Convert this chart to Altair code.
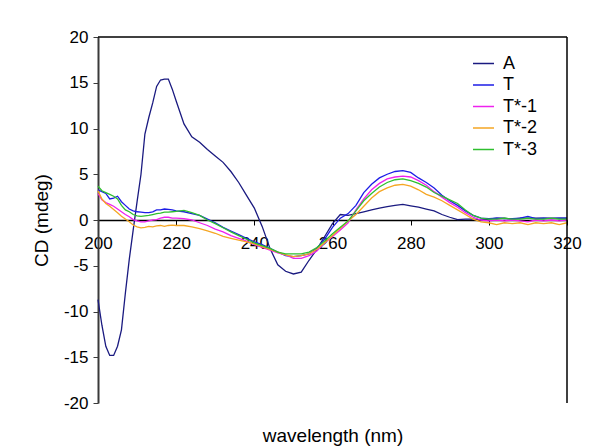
import altair as alt
import pandas as pd

# ---- data ----
wavelength = list(range(200, 221)) + list(range(222, 321, 2))

series_names = ["A", "T", "T*-1", "T*-2", "T*-3"]
series_colors = ["#1a1a80", "#1c1ce6", "#ee22ee", "#f5a623", "#2fbf2f"]

cd_A = [-8.7, -11.5, -13.8, -14.8, -14.8, -13.8, -12.0, -8.0, -4.3, -1.1,
        2.0, 5.0, 9.4, 11.2, 12.8, 14.6, 15.3, 15.4, 15.4, 14.3, 13.0,
        10.5, 9.1, 8.5, 7.7, 7.0, 6.3, 5.3, 4.1, 2.7, 1.3,
        -0.7, -3.1, -4.9, -5.6, -5.9, -5.7, -4.4, -3.2, -1.8, -0.4,
        0.6, 0.5, 0.7, 0.9, 1.1, 1.3, 1.45, 1.6, 1.7, 1.55,
        1.4, 1.2, 1.0, 0.6, 0.3, 0.05, 0.1, 0.1, 0.0, 0.1,
        0.2, 0.2, 0.1, 0.2, 0.2, 0.2, 0.2, 0.2, 0.2, 0.2]

cd_T = [3.3, 3.1, 2.9, 2.3, 2.4, 2.6, 2.0, 1.6, 1.2, 1.0,
        0.9, 0.85, 0.8, 0.8, 0.9, 1.1, 1.1, 1.2, 1.15, 1.1, 1.0,
        0.9, 0.7, 0.5, 0.1, -0.3, -0.8, -1.2, -1.6, -2.0, -2.4,
        -2.7, -3.1, -3.5, -3.9, -4.0, -3.9, -3.7, -3.1, -2.1, -0.8,
        0.2, 0.7, 1.6, 3.0, 3.9, 4.6, 5.0, 5.3, 5.4, 5.2,
        4.6, 4.1, 3.5, 2.7, 2.1, 1.6, 1.0, 0.5, 0.2, 0.15,
        0.2, 0.15, 0.15, 0.2, 0.4, 0.15, 0.2, 0.15, 0.2, 0.2]

cd_T1 = [2.9, 2.2, 1.9, 1.7, 1.5, 1.2, 0.9, 0.6, 0.35, 0.05,
         -0.1, -0.2, -0.2, -0.1, 0.0, 0.05, 0.2, 0.3, 0.3, 0.2, 0.2,
         0.15, 0.0, -0.3, -0.6, -1.0, -1.3, -1.7, -2.0, -2.3, -2.7,
         -3.0, -3.3, -3.6, -3.8, -4.2, -4.2, -3.9, -3.4, -2.5, -1.8,
         -1.1, -0.3, 1.1, 2.3, 3.3, 4.0, 4.5, 4.7, 4.8, 4.7,
         4.3, 3.8, 3.1, 2.5, 1.9, 1.4, 0.8, 0.3, 0.0, -0.1,
         0.0, -0.1, 0.0, -0.1, -0.2, 0.0, -0.1, 0.0, -0.1, 0.0]

cd_T2 = [3.2, 2.3, 1.8, 1.5, 1.15, 0.8, 0.4, 0.1, -0.2, -0.55,
         -0.75, -0.85, -0.8, -0.7, -0.75, -0.65, -0.6, -0.7, -0.6, -0.55, -0.6,
         -0.6, -0.75, -0.95, -1.2, -1.45, -1.8, -2.0, -2.2, -2.4, -2.6,
         -2.9, -3.2, -3.5, -3.8, -4.0, -3.9, -3.7, -3.2, -2.5, -1.7,
         -0.9, -0.1, 0.6, 1.5, 2.4, 3.1, 3.5, 3.8, 3.9, 3.7,
         3.3, 2.8, 2.5, 2.1, 1.6, 1.1, 0.6, 0.1, -0.2, -0.3,
         -0.5, -0.3, -0.4, -0.3, -0.5, -0.3, -0.4, -0.3, -0.5, -0.3]

cd_T3 = [3.7, 3.2, 3.0, 2.8, 2.6, 2.3, 1.6, 1.1, 0.9, 0.6,
         0.45, 0.4, 0.45, 0.5, 0.6, 0.7, 0.75, 0.85, 0.85, 0.9, 0.95,
         1.05, 0.8, 0.5, 0.0, -0.4, -0.85, -1.3, -1.7, -2.1, -2.5,
         -2.8, -3.1, -3.5, -3.7, -3.7, -3.7, -3.5, -3.0, -2.3, -1.5,
         -0.8, -0.1, 1.0, 2.1, 2.9, 3.6, 4.1, 4.4, 4.5, 4.3,
         4.0, 3.6, 3.0, 2.6, 2.2, 1.8, 1.1, 0.5, 0.2, 0.1,
         0.1, 0.2, 0.1, 0.1, 0.2, 0.1, 0.1, 0.2, 0.1, 0.1]

x_ticks = list(range(200, 321, 10))
y_ticks = list(range(-20, 21, 5))

# ---- build long table ----
rows = []
for name, vals in zip(series_names, [cd_A, cd_T, cd_T1, cd_T2, cd_T3]):
    for i, (w, v) in enumerate(zip(wavelength, vals)):
        rows.append({"series": name, "wl": w, "cd": v, "order": i})
df = pd.DataFrame(rows)

W, H = 469, 366
FONT = "Liberation Sans"

xscale = alt.Scale(domain=[200, 320], nice=False, zero=False)
yscale = alt.Scale(domain=[-20, 20], nice=False, zero=False)

lines = alt.Chart(df).mark_line(strokeWidth=1.3).encode(
    x=alt.X("wl:Q", scale=xscale,
            axis=alt.Axis(values=x_ticks, orient="bottom", offset=-H / 2,
                          labelExpr="datum.value % 20 == 0 ? toString(datum.value) : ''",
                          labelFlush=False, labelOverlap=False,
                          title="wavelength (nm)", titleY=215, titleBaseline="middle",
                          tickSize=5, labelPadding=10, domainWidth=1.5,
                          domainColor="black", tickColor="black")),
    y=alt.Y("cd:Q", scale=yscale,
            axis=alt.Axis(values=y_ticks, title="CD (mdeg)", titleX=-57, titleY=H / 2,
                          labelExpr="toString(datum.value)", labelFlush=False,
                          titleAngle=-90, titleAlign="center", titleBaseline="middle",
                          tickSize=5, labelPadding=5, domainWidth=2,
                          domainColor="#3a3a3a", tickColor="#3a3a3a")),
    color=alt.Color("series:N",
                    scale=alt.Scale(domain=series_names, range=series_colors),
                    legend=alt.Legend(title=None, orient="none", legendX=374, legendY=15,
                                      symbolType="stroke", symbolSize=441,
                                      symbolStrokeWidth=1.5, labelFontSize=18,
                                      labelFont=FONT, labelOffset=8, rowPadding=0.5,
                                      padding=0, labelColor="black")),
    order="order:Q",
)

top_df = pd.DataFrame({"x": [200], "x2": [320], "y": [20]})
top_rule = alt.Chart(top_df).mark_rule(color="black", strokeWidth=1.5).encode(
    x=alt.X("x:Q", scale=xscale), x2="x2:Q", y=alt.Y("y:Q", scale=yscale))

right_df = pd.DataFrame({"x": [320], "y": [-20], "y2": [20]})
right_rule = alt.Chart(right_df).mark_rule(color="black", strokeWidth=1.5).encode(
    x=alt.X("x:Q", scale=xscale), y=alt.Y("y:Q", scale=yscale), y2="y2:Q")

chart = alt.layer(lines, top_rule, right_rule).properties(
    width=W, height=H,
    autosize=alt.AutoSizeParams(type="none"),
    padding={"left": 90, "top": 29, "right": 25, "bottom": 45},
).configure_axis(
    labelFont=FONT, labelFontSize=17, labelColor="black",
    titleFont=FONT, titleFontSize=19, titleFontWeight="normal", titleColor="black",
    grid=False,
).configure_view(stroke=None)

chart.save("out.html", embed_options={"renderer": "svg", "actions": False})
